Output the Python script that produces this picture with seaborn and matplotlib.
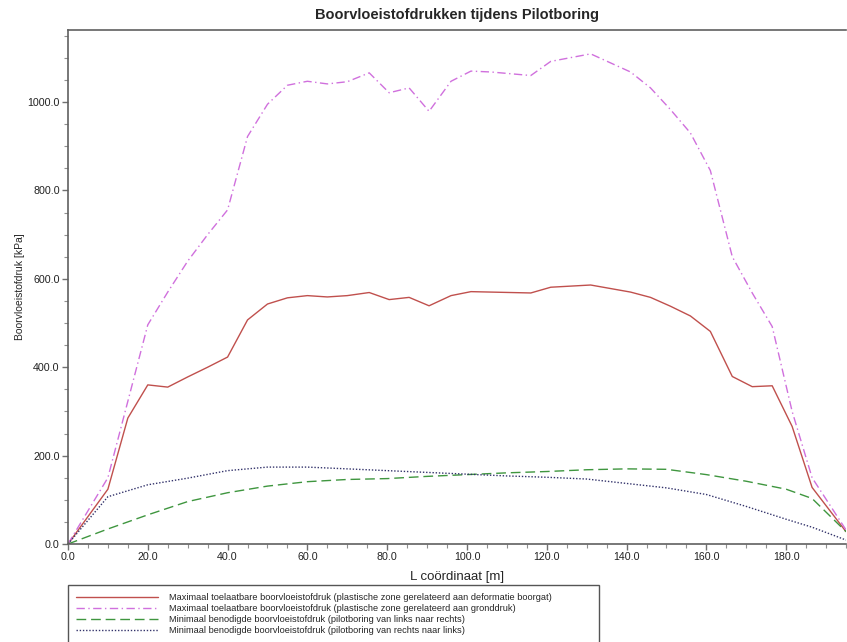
import matplotlib
matplotlib.use("Agg")
import matplotlib.pyplot as plt
import matplotlib.ticker as mticker
import pandas as pd
import seaborn as sns

# stations (m) shared by the two "maximaal" curves
L_max = [0, 10, 15, 20, 25, 30, 35, 40, 45, 50, 55, 60, 65, 70, 75.5, 80.5, 85.5, 90.5,
         96, 101, 106, 116, 121, 131, 141, 146, 151, 156, 161, 166.5, 171.5, 176.5,
         181.5, 186.5, 195]
p_max_boorgat = [0, 124, 285, 360, 355, 378, 400, 423, 507, 543, 557, 562, 559, 562, 569,
                 553, 558, 539, 562, 571, 570, 568, 581, 586, 570, 558, 538, 516, 481,
                 379, 356, 358, 266, 128, 28]
p_max_gronddruk = [0, 150, 323, 496, 570, 640, 700, 756, 922, 995, 1038, 1047, 1041, 1046,
                   1066, 1021, 1032, 979, 1047, 1070, 1068, 1060, 1092, 1109, 1068, 1032,
                   983, 930, 845, 650, 568, 492, 300, 150, 32]

# stations (m) for the two "minimaal" curves
L_min = [0, 10, 20, 30, 40, 50, 60, 70, 80, 90, 100, 110, 120, 130, 140, 150, 160, 170,
         180, 186.5, 195]
p_min_lr = [0, 34, 66, 96, 116, 131, 141, 146, 148, 153, 157, 161, 164, 168, 170, 169,
            157, 142, 124, 103, 28]
p_min_rl = [0, 107, 134, 149, 166, 174, 174, 170, 166, 162, 158, 154, 151, 147, 137, 127,
            112, 85, 56, 38, 9]

labels = [
    "Maximaal toelaatbare boorvloeistofdruk (plastische zone gerelateerd aan deformatie boorgat)",
    "Maximaal toelaatbare boorvloeistofdruk (plastische zone gerelateerd aan gronddruk)",
    "Minimaal benodigde boorvloeistofdruk (pilotboring van links naar rechts)",
    "Minimaal benodigde boorvloeistofdruk (pilotboring van rechts naar links)",
]

sns.set_style("ticks")
plt.rcParams["font.family"] = ["Liberation Sans", "DejaVu Sans"]

fig = plt.figure(figsize=(8.47, 6.42), dpi=100)
ax = fig.add_axes([68 / 847, 1 - 544 / 642, (846 - 68) / 847, (544 - 30) / 642])

series = [
    (L_max, p_max_boorgat, "#c0504d", (None, None)),
    (L_max, p_max_gronddruk, "#d070dd", (6, 2.5, 1, 2.5)),
    (L_min, p_min_lr, "#3f963f", (7, 3.5)),
    (L_min, p_min_rl, "#33336b", (1, 1.3)),
]
handles = []
for (x, y, col, dash), lab in zip(series, labels):
    df = pd.DataFrame({"L": x, "p": y})
    sns.lineplot(data=df, x="L", y="p", ax=ax, color=col, lw=1, sort=False, legend=False)
    line = ax.get_lines()[-1]
    if dash[0] is not None:
        line.set_dashes(dash)
    handles.append(line)
if ax.get_legend() is not None:
    ax.get_legend().remove()

ax.set_xlim(0, 195)
ax.set_ylim(0, 1163)
ax.xaxis.set_major_locator(mticker.MultipleLocator(20))
ax.xaxis.set_minor_locator(mticker.MultipleLocator(5))
ax.yaxis.set_major_locator(mticker.MultipleLocator(200))
ax.yaxis.set_minor_locator(mticker.MultipleLocator(50))
ax.xaxis.set_major_formatter(mticker.FormatStrFormatter("%.1f"))
ax.yaxis.set_major_formatter(mticker.FormatStrFormatter("%.1f"))

for s in ["left", "bottom", "top"]:
    ax.spines[s].set_color("#606060")
    ax.spines[s].set_linewidth(1.2)
ax.spines["right"].set_visible(False)
ax.tick_params(which="major", length=4, width=1, color="#707070", labelsize=7.7,
               labelcolor="#222222", pad=2)
ax.tick_params(which="minor", length=3, width=0.8, color="#909090")

ax.set_xlabel("L coördinaat [m]", fontsize=9.5, labelpad=6)
ax.set_ylabel("Boorvloeistofdruk [kPa]", fontsize=7.5, labelpad=2)
ax.set_title("Boorvloeistofdrukken tijdens Pilotboring", fontsize=10.5,
             fontweight="bold", pad=8)

leg = fig.legend(handles, labels, loc="upper left",
                 bbox_to_anchor=(68 / 847, 0, (599 - 68) / 847, 1 - 585 / 642),
                 mode="expand", borderaxespad=0, fontsize=6.7, handlelength=8.8,
                 handletextpad=1.2, labelspacing=0.2, borderpad=0.9,
                 fancybox=False, framealpha=1)
leg.get_frame().set_edgecolor("#555555")
leg.get_frame().set_linewidth(1)

fig.savefig("out.png", dpi=100)
